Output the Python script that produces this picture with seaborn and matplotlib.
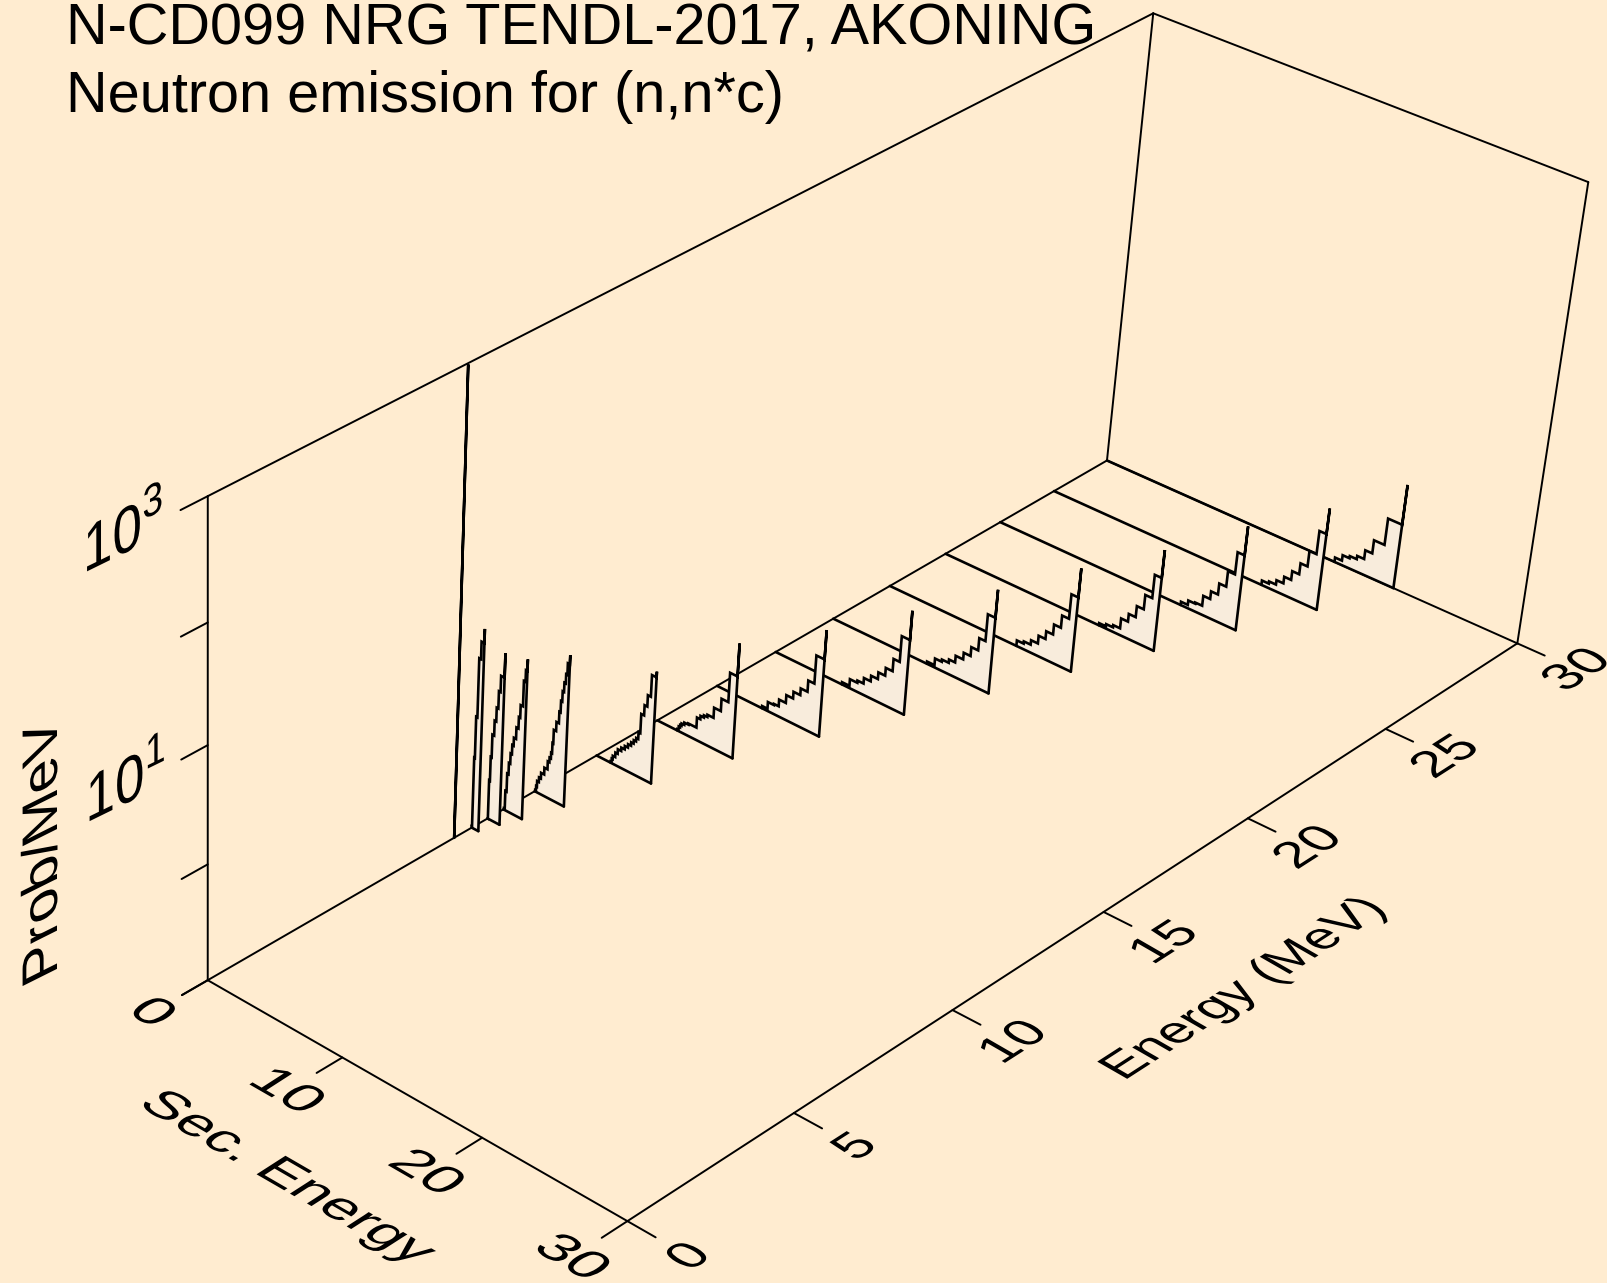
# Neutron emission spectra, drawn as the 3D box plot the original has
import numpy as np
import matplotlib
matplotlib.use('Agg')
import matplotlib.pyplot as plt
from matplotlib.patheffects import AbstractPathEffect
from matplotlib.transforms import Affine2D
import seaborn as sns

BG = '#FFECD0'
FILL = '#F8ECDC'
WIDTH, HEIGHT = 1607, 1283

title_lines = ['N-CD099 NRG TENDL-2017, AKONING', 'Neutron emission for (n,n*c)']
sec_ticks = [0, 10, 20, 30]
energy_ticks = [0, 5, 10, 15, 20, 25, 30]
# z axis is in decades above the 1e-1 floor
z_ticks = [0, 1, 2, 3, 4]
z_labels = {2: r'$\mathdefault{10^1}$', 4: r'$\mathdefault{10^3}$'}

# every spectrum: secondary energy of each step, height of it in decades, last entry is the spike
e30_sec = [17.0, 17.5, 18.0, 18.5, 19.0, 19.5, 20.25, 21.25]
e30_dec = [0.04, 0.09, 0.11, 0.14, 0.22, 0.34, 0.58, 0.94]
e28_sec = [15.5, 16.0, 16.5, 17.0, 17.5, 18.0, 18.5, 19.0, 19.5]
e28_dec = [0.04, 0.06, 0.10, 0.16, 0.24, 0.34, 0.48, 0.69, 0.92]
e26_sec = [13.5, 14.0, 14.5, 15.0, 15.5, 16.0, 16.5, 17.0, 17.5]
e26_dec = [0.03, 0.07, 0.08, 0.17, 0.24, 0.34, 0.48, 0.68, 0.94]
e24_sec = [11.5, 12.0, 12.5, 13.0, 13.5, 14.0, 14.5, 15.0, 15.5]
e24_dec = [0.02, 0.04, 0.06, 0.15, 0.22, 0.32, 0.45, 0.66, 0.91]
e22_sec = [9.5, 10.0, 10.5, 11.0, 11.5, 12.0, 12.5, 13.0, 13.5]
e22_dec = [0.05, 0.07, 0.11, 0.18, 0.25, 0.34, 0.45, 0.67, 0.93]
e20_sec = [7.05, 7.6, 8.1, 8.6, 9.05, 9.6, 10.1, 10.6, 11.05, 11.6]
e20_dec = [0.02, 0.08, 0.10, 0.13, 0.19, 0.25, 0.33, 0.44, 0.68, 0.93]
e18_sec = [5.0, 5.55, 6.1, 6.55, 7.05, 7.55, 8.05, 8.55, 9.0, 9.6]
e18_dec = [0.02, 0.08, 0.10, 0.15, 0.20, 0.26, 0.33, 0.44, 0.67, 0.93]
e16_sec = [3.4, 3.8, 4.25, 4.6, 5.1, 5.6, 6.1, 6.6, 7.05, 7.65]
e16_dec = [0.02, 0.08, 0.09, 0.15, 0.22, 0.28, 0.34, 0.44, 0.69, 0.95]
e14_sec = [1.5, 1.6, 1.7, 1.8, 2.0, 2.3, 2.55, 2.9, 3.15, 3.4, 3.65, 4.1, 4.6, 5.1, 5.65]
e14_dec = [0.01, 0.04, 0.06, 0.08, 0.10, 0.11, 0.11, 0.20, 0.23, 0.25, 0.27, 0.36, 0.47, 0.73, 1.02]
e12_sec = [1.05, 1.13, 1.2, 1.38, 1.55, 1.8, 2.05, 2.28, 2.5, 2.68, 2.85, 3.0, 3.13, 3.34, 3.54, 3.76, 4.1]
e12_dec = [0.01, 0.04, 0.07, 0.11, 0.15, 0.18, 0.21, 0.24, 0.27, 0.30, 0.33, 0.39, 0.56, 0.65, 0.75, 0.94, 0.99]
e10_sec = [0.03, 0.09, 0.15, 0.28, 0.42, 0.65, 0.88, 1.0, 1.1, 1.17, 1.23, 1.4, 1.58, 1.67, 1.76, 1.86, 1.96, 2.05, 2.2]
e10_dec = [0.01, 0.05, 0.10, 0.14, 0.19, 0.25, 0.32, 0.36, 0.41, 0.50, 0.62, 0.70, 0.80, 0.90, 0.99, 1.07, 1.15, 1.25, 1.33]
e9_sec = [0.04, 0.1, 0.19, 0.29, 0.39, 0.49, 0.59, 0.75, 0.9, 1.0, 1.17, 1.29, 1.4]
e9_dec = [0.01, 0.17, 0.33, 0.43, 0.52, 0.60, 0.67, 0.77, 0.87, 0.98, 1.20, 1.30, 1.40]
e85_sec = [0.0, 0.02, 0.08, 0.15, 0.28, 0.4, 0.52, 0.64, 0.9]
e85_dec = [0.0, 0.34, 0.55, 0.75, 0.88, 1.0, 1.15, 1.29, 1.5]
e8_sec = [0.0, 0.02, 0.07, 0.16, 0.29, 0.5]
e8_dec = [0.01, 0.62, 0.98, 1.49, 1.64, 1.76]
e75_sec = [0.0]
e75_dec = [3.99]

# back to front, so the nearer ones cover the lines behind them
spectra = [(30, e30_sec, e30_dec), (28, e28_sec, e28_dec), (26, e26_sec, e26_dec),
           (24, e24_sec, e24_dec), (22, e22_sec, e22_dec), (20, e20_sec, e20_dec),
           (18, e18_sec, e18_dec), (16, e16_sec, e16_dec), (14, e14_sec, e14_dec),
           (12, e12_sec, e12_dec), (10, e10_sec, e10_dec), (9, e9_sec, e9_dec),
           (8.5, e85_sec, e85_dec), (8, e8_sec, e8_dec), (7.45, e75_sec, e75_dec)]

# camera matrix fitted to the box corners: (sec, energy, decades) -> pixel
camera = np.array([[12.8324, 35.2417, -2.89076, 207.734],
                   [5.77945, -15.1323, -127.942, 980.188],
                   [-0.00184393, 0.00475801, -0.0139681, 1.0]])


def project(sec, energy, z):
    sec, energy, z = np.broadcast_arrays(np.asarray(sec, float), np.asarray(energy, float), np.asarray(z, float))
    pts = np.stack([sec, energy, z, np.ones_like(sec)])
    v = camera @ pts
    return v[0] / v[2], v[1] / v[2]


class Plane(AbstractPathEffect):
    '''Lays a rotated text into a plane of the box: its local x and y axes go to vectors a and b (y up).'''

    def __init__(self, a, b, angle, anchor):
        super().__init__()
        self.a, self.b = a, b
        self.angle = angle
        self.anchor = anchor

    def draw_path(self, renderer, gc, tpath, affine, rgbFace=None):
        cx, cy = self.anchor
        m = Affine2D.from_values(self.a[0], self.a[1], self.b[0], self.b[1], 0, 0)
        t = Affine2D().translate(-cx, -cy).rotate_deg(-self.angle) + m + Affine2D().translate(cx, cy)
        renderer.draw_path(gc, tpath, affine + t, rgbFace)


def plane_text(ax, x, y, s, a, b, size=36):
    angle = np.degrees(np.arctan2(a[1], a[0]))
    t = ax.text(x, y, s, ha='center', va='center', fontsize=size, color='black', rotation=angle)
    t.set_path_effects([Plane(a, b, angle, (x, HEIGHT - y))])
    return t


def line(ax, x, y, z, lw=1.5):
    sns.lineplot(x=np.asarray(x), y=np.asarray(y), sort=False, estimator=None, color='black',
                 linewidth=lw, zorder=z, ax=ax, solid_joinstyle='miter')


sns.set_style('white')
plt.rcParams['font.family'] = ['Liberation Sans', 'DejaVu Sans']
plt.rcParams['mathtext.fontset'] = 'custom'
plt.rcParams['mathtext.rm'] = 'Liberation Sans'

fig = plt.figure(figsize=(WIDTH / 100, HEIGHT / 100), dpi=100, facecolor=BG)
ax = fig.add_axes([0, 0, 1, 1])
ax.set_xlim(0, WIDTH)
ax.set_ylim(HEIGHT, 0)
ax.axis('off')

# box
for s0, e0, z0, s1, e1, z1 in [(0, 0, 0, 30, 0, 0), (30, 0, 0, 30, 30, 0), (30, 30, 0, 0, 30, 0), (0, 30, 0, 0, 0, 0),
                               (0, 0, 0, 0, 0, 4), (0, 30, 0, 0, 30, 4), (30, 30, 0, 30, 30, 4),
                               (0, 0, 4, 0, 30, 4), (0, 30, 4, 30, 30, 4)]:
    line(ax, *project([s0, s1], [e0, e1], [z0, z1]), 1, 1.4)

# ticks, the tick labels are set smaller and scaled up so their boxes stay inside the figure
for s in sec_ticks:
    line(ax, *project([s, s], [0, -0.75], [0, 0]), 1, 1.4)
    plane_text(ax, *project(s, -1.65, 0), str(s), (1.44, -0.83), (1.165, 0.75), size=26)
for e in energy_ticks:
    line(ax, *project([30, 31.9], [e, e], [0, 0]), 1, 1.4)
    plane_text(ax, *project(34.2, e, 0), str(e), (1.06, 0.68), (-1.04, 0.6), size=30)
for z in z_ticks:
    line(ax, *project([0, 0], [0, -0.75], [z, z]), 1, 1.4)
for z, lab in z_labels.items():
    plane_text(ax, *project(0, -2.3, z + 0.03), lab, (1.06, 0.52), (0, 1.3))

# spectra
for i, (energy, sec, dec) in enumerate(spectra):
    order = 10 + 2 * i
    sec_path = [sec[0]]
    dec_path = [dec[0]]
    for j in range(1, len(sec)):
        sec_path += [sec[j], sec[j]]
        dec_path += [dec[j - 1], dec[j]]
    sx, sy = project([sec[0]] + sec_path + [sec[-1]], energy, [0] + dec_path + [0])
    if len(sec) > 1:
        ax.fill(sx, sy, color=FILL, zorder=order, linewidth=0)
    line(ax, sx, sy, order + 1, 1.9)
    line(ax, *project([0, sec[-1]], energy, [0, 0]), order + 1, 1.9)

# axis titles and header
plane_text(ax, 286, 1178, 'Sec. Energy', (1.02, -0.59), (0.84, 0.54))
plane_text(ax, 1245, 989, 'Energy (MeV)', (0.86, 0.555), (-0.87, 0.5))
plane_text(ax, 44, 850, 'Prob/MeV', (0, 1.17), (-1.0, -0.5))
for y, txt in zip([45, 112], title_lines):
    ax.text(66, y, txt, fontsize=41.5, color='black', ha='left', va='baseline')

fig.savefig('out.png', dpi=100, facecolor=BG)
